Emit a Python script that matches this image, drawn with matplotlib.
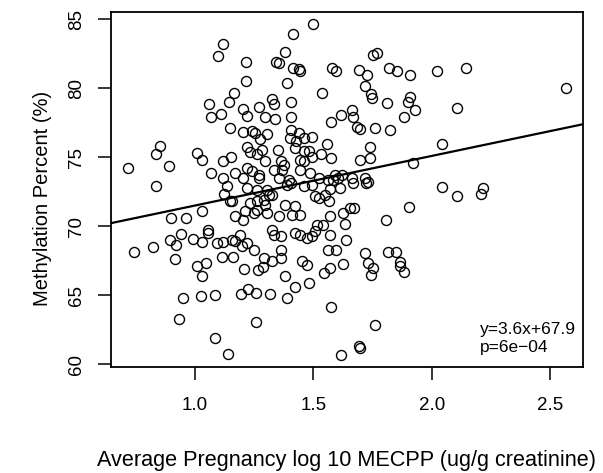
import matplotlib
matplotlib.use("Agg")
import matplotlib.pyplot as plt
import numpy as np

plt.rcParams['font.family'] = ['Liberation Sans', 'DejaVu Sans']

# log10 MECPP averaged over pregnancy (ug/g creatinine)
mecpp = [
    1.117, 1.096, 1.214, 1.215, 1.166, 1.060, 1.145, 1.201, 1.218, 1.270, 1.069, 1.110, 1.148, 1.295,
    1.497, 1.415, 1.380, 1.342, 1.356, 1.412, 1.439, 1.443, 1.752, 1.769, 1.577, 1.596, 1.693, 1.727,
    1.820, 1.851, 1.907, 1.387, 1.535, 1.719, 1.743, 1.746, 1.809, 1.907, 1.900, 1.928, 1.882, 1.324,
    1.333, 1.405, 1.338, 1.405, 1.573, 1.616, 1.661, 1.665, 1.682, 1.696, 1.759, 1.823,
    1.556, 1.738, 1.573, 1.696, 1.738, 1.921, 1.591, 1.619, 1.605, 1.584, 1.562, 1.661, 1.668, 1.717,
    1.731, 1.724, 1.570, 1.612, 1.549, 1.567, 1.654, 1.671, 1.623, 1.570, 1.904, 1.806, 1.541, 1.633,
    1.570, 1.638, 1.562, 1.597, 1.717, 1.816, 1.848, 1.530, 1.471,
    1.570, 1.546, 1.626, 1.380, 1.422, 1.482, 1.316, 1.387, 1.574, 1.731, 1.752, 1.743, 1.865,
    1.865, 1.882, 1.762, 1.692, 1.696, 1.615,
    0.744, 0.916, 1.007, 1.049, 1.028, 1.113, 1.162, 1.208, 1.267, 1.288, 0.948, 1.025, 1.087, 1.193,
    1.225, 1.256, 0.932, 1.260, 1.087, 1.141,
    0.852, 0.834, 0.719, 0.890, 0.838, 1.007, 1.028, 1.070, 1.119, 1.152, 1.119, 1.134, 1.124, 1.148,
    0.899, 0.961, 1.028, 0.941, 0.895, 0.919, 0.824, 0.993, 1.028, 1.056, 1.056, 1.092, 1.119, 1.155,
    2.041, 2.041, 2.107, 2.216, 2.207, 2.020, 2.142, 2.104, 2.564,
    1.201, 1.243, 1.252, 1.304, 1.276, 1.406, 1.438, 1.402, 1.426, 1.459, 1.494, 1.423, 1.219, 1.233,
    1.262, 1.283, 1.350, 1.459, 1.480, 1.444, 1.459, 1.494, 1.297, 1.364, 1.374, 1.367, 1.170, 1.219,
    1.241, 1.269, 1.269, 1.332, 1.486, 1.444, 1.205, 1.353, 1.395, 1.388, 1.406, 1.459, 1.494, 1.522,
    1.219, 1.262, 1.304, 1.311, 1.325, 1.156, 1.233, 1.262, 1.290, 1.297, 1.381, 1.423, 1.409, 1.444,
    1.508, 1.524, 1.212, 1.262, 1.248, 1.304, 1.170, 1.205, 1.353, 1.515, 1.508, 1.494, 1.325, 1.364,
    1.332, 1.423, 1.444, 1.191, 1.170, 1.219, 1.198, 1.248, 1.364, 1.364, 1.290, 1.325, 1.451, 1.473,
]

# percent methylation
methylation = [
    83.21, 82.36, 81.91, 80.55, 79.64, 78.86, 78.99, 78.48, 77.99, 78.67, 77.94, 78.12, 77.09, 77.94,
    84.64, 83.91, 82.61, 81.93, 81.81, 81.49, 81.38, 81.28, 82.41, 82.54, 81.49, 81.25, 81.33, 80.97,
    81.45, 81.25, 80.94, 80.36, 79.68, 80.17, 79.59, 79.28, 78.91, 79.39, 79.03, 78.43, 77.90, 79.20,
    78.86, 79.03, 77.78, 77.90, 77.58, 78.07, 78.43, 77.94, 77.22, 77.05, 77.10, 76.98,
    75.96, 75.77, 74.93, 74.80, 74.93, 74.57, 73.72, 73.72, 73.48, 73.36, 73.36, 73.48, 73.12, 73.48,
    73.23, 73.12, 72.70, 72.80, 72.27, 71.83, 71.30, 71.30, 70.94, 70.77, 71.40, 70.46, 70.09, 70.14,
    69.37, 69.01, 68.28, 68.25, 68.07, 68.17, 68.14, 75.22, 69.13,
    66.96, 66.64, 67.27, 66.40, 65.62, 65.91, 65.09, 64.83, 64.13, 67.36, 66.96, 66.47, 67.43,
    67.12, 66.71, 62.83, 61.33, 61.20, 60.65,
    68.14, 67.61, 67.14, 67.32, 66.40, 67.80, 67.75, 66.88, 66.83, 67.07, 64.78, 64.97, 65.02, 65.09,
    65.46, 65.19, 63.26, 63.09, 61.88, 60.77,
    75.84, 75.22, 74.20, 74.39, 72.92, 75.29, 74.80, 73.84, 74.73, 75.04, 73.48, 72.94, 72.32, 71.83,
    70.62, 70.58, 71.11, 69.42, 69.01, 68.64, 68.52, 69.08, 68.88, 69.73, 69.49, 68.77, 68.88, 69.01,
    75.94, 72.83, 72.20, 72.75, 72.34, 81.25, 81.49, 78.55, 80.04,
    76.83, 76.93, 76.76, 76.69, 76.35, 77.00, 76.76, 76.40, 76.16, 76.40, 76.45, 75.67, 75.72, 75.38,
    75.24, 75.55, 75.55, 75.43, 75.43, 74.83, 74.75, 75.00, 74.71, 74.71, 74.46, 74.10, 73.86, 74.22,
    73.99, 73.74, 73.50, 74.10, 73.86, 74.10, 73.50, 73.50, 73.38, 73.01, 73.14, 72.90, 73.01, 73.50,
    72.78, 72.65, 72.65, 72.25, 72.25, 71.81, 71.69, 71.81, 71.93, 71.57, 71.57, 71.45, 70.84, 70.84,
    72.17, 72.05, 71.09, 71.20, 70.96, 70.96, 70.72, 70.48, 70.72, 70.12, 69.64, 69.28, 69.75, 69.28,
    69.39, 69.51, 69.39, 69.39, 68.91, 68.79, 68.55, 68.30, 68.30, 67.70, 67.70, 67.46, 67.46, 67.22,
]

slope = 3.6
intercept = 67.9
fit_label = "y=3.6x+67.9"
p_label = "p=6e\u221204"

x_ticks = [1.0, 1.5, 2.0, 2.5]
y_ticks = [60, 65, 70, 75, 80, 85]

fig = plt.figure(figsize=(6.03, 4.73), dpi=100)
ax = fig.add_axes([0.184, 0.2235, 0.7823, 0.7518])

ax.plot(mecpp, methylation, linestyle='none', marker='o', ms=7.2,
        mfc='none', mec='black', mew=1.0)

xlim = (0.646, 2.636)
ax.set_xlim(*xlim)
ax.set_ylim(59.78, 85.55)

xs = np.array(xlim)
ax.plot(xs, intercept + slope * xs, color='black', lw=1.6)

ax.set_xticks(x_ticks)
ax.set_xticklabels([f"{v:.1f}" for v in x_ticks])
ax.set_yticks(y_ticks)
ax.set_yticklabels([str(v) for v in y_ticks], rotation=90, va='center')

ax.tick_params(axis='both', direction='out', length=9.5, width=1.1,
               labelsize=13.5, colors='black')
ax.tick_params(axis='x', pad=12)
ax.tick_params(axis='y', pad=9)

for s in ax.spines.values():
    s.set_linewidth(1.3)

ax.set_xlabel("Average Pregnancy log 10 MECPP (ug/g creatinine)", fontsize=15.6, labelpad=26)
ax.set_ylabel("Methylation Percent (%)", fontsize=14.5)
ax.yaxis.set_label_coords(-0.126, 0.475)

ax.text(2.203, 62.49, fit_label, fontsize=12.5, ha='left', va='center')
ax.text(2.203, 61.20, p_label, fontsize=12.5, ha='left', va='center')

fig.savefig("out.png", dpi=100)
